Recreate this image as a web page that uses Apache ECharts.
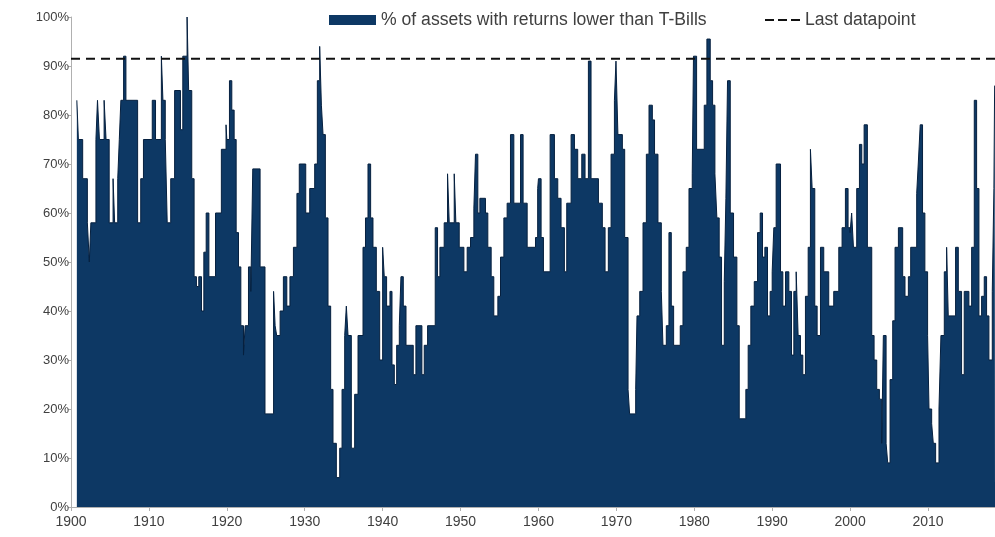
<!DOCTYPE html>
<html><head><meta charset="utf-8">
<script src="https://cdn.jsdelivr.net/npm/echarts@6/dist/echarts.min.js"></script>
<style>html,body{margin:0;padding:0;background:#fff}#c{width:995px;height:537px}</style>
</head><body><div id="c"></div>
<script>
const seriesName = '% of assets with returns lower than T-Bills';
const lastName = 'Last datapoint';
const lastDatapoint = 91.5;
const xStart = 1900, xEnd = 2018.6;
const xTicks = [1900, 1910, 1920, 1930, 1940, 1950, 1960, 1970, 1980, 1990, 2000, 2010];
const yMax = 100, yStep = 10;

// [year, % of assets] – value holds until next step
const steps1900s = [[1900.75,83],[1900.95,75],[1901.5,67],[1902.1,58],[1902.35,50],[1902.55,58],[1903.2,75],[1903.4,83],[1903.65,75],[1904.25,83],[1904.5,75],[1904.9,58],[1905.4,67],[1905.6,58],[1906.0,67],[1906.2,75],[1906.4,83],[1906.75,92],[1907.05,83],[1908.55,58],[1908.95,67],[1909.3,75]];
const steps1910s = [[1910.43,83],[1910.85,75],[1911.6,92],[1911.8,83],[1912.1,75],[1912.35,58],[1912.8,67],[1913.3,85],[1914.05,77],[1914.35,92],[1914.9,100],[1915.1,85],[1915.5,67],[1915.8,47],[1916.1,45],[1916.4,47],[1916.75,40],[1917.05,52],[1917.35,60],[1917.7,47],[1918.55,60],[1919.3,73],[1919.9,78]];
const steps1920s = [[1920.0,75],[1920.34,87],[1920.64,81],[1920.94,75],[1921.2,56],[1921.5,49],[1921.8,37],[1922.14,31],[1922.35,37],[1922.78,49],[1923.08,44],[1923.33,69],[1924.27,49],[1924.9,19],[1926.0,44],[1926.2,37],[1926.4,35],[1926.84,40],[1927.26,47],[1927.7,41],[1928.1,47],[1928.55,53],[1929.0,64],[1929.3,70]];
const steps1930s = [[1930.13,60],[1930.64,65],[1931.28,70],[1931.62,87],[1931.92,94],[1932.14,82],[1932.35,76],[1932.65,59],[1932.99,41],[1933.33,24],[1933.63,13],[1934.06,6],[1934.49,12],[1934.79,24],[1935.13,35],[1935.34,41],[1935.56,35],[1935.98,12],[1936.41,23],[1936.84,35],[1937.48,53],[1937.8,59],[1938.12,70],[1938.46,59],[1938.76,53],[1939.19,44],[1939.62,30]];
const steps1940s = [[1940.0,53],[1940.21,47],[1940.51,41],[1940.94,44],[1941.2,29],[1941.5,25],[1941.8,33],[1942.14,37],[1942.35,47],[1942.65,41],[1943.0,33],[1943.93,27],[1944.27,37],[1945.04,27],[1945.34,33],[1945.77,37],[1946.75,57],[1947.05,47],[1947.35,53],[1947.9,58],[1948.33,68],[1948.55,58],[1949.19,68],[1949.4,58],[1949.83,53]];
const steps1950s = [[1950.43,48],[1950.85,53],[1951.28,55],[1951.71,61],[1951.92,72],[1952.22,60],[1952.48,63],[1953.2,60],[1953.5,53],[1953.93,47],[1954.27,39],[1954.79,43],[1955.13,51],[1955.56,59],[1955.98,62],[1956.41,76],[1956.84,62],[1957.7,76],[1958.03,62],[1958.55,53],[1959.62,55],[1959.9,65]];
const steps1960s = [[1960.0,67],[1960.34,55],[1960.64,48],[1961.5,76],[1962.05,67],[1962.48,63],[1962.9,57],[1963.33,48],[1963.63,62],[1964.19,76],[1964.62,73],[1965.04,67],[1965.56,72],[1965.98,67],[1966.41,91],[1966.75,67],[1967.7,62],[1968.2,57],[1968.55,48],[1968.97,57],[1969.32,72],[1969.75,83]];
const steps1970s = [[1969.95,91],[1970.2,76],[1970.77,73],[1971.07,55],[1971.5,24],[1971.7,19],[1972.48,24],[1972.65,39],[1973.0,44],[1973.42,58],[1973.85,72],[1974.19,82],[1974.62,79],[1974.9,72],[1975.34,58],[1975.77,44],[1975.98,33],[1976.41,37],[1976.75,56],[1977.05,41],[1977.35,33],[1978.2,37],[1978.55,48],[1978.97,53],[1979.32,65],[1979.74,68]];
const steps1980s = [[1979.9,92],[1980.3,73],[1981.28,82],[1981.62,95.5],[1982.05,87],[1982.35,82],[1982.65,68],[1982.9,59],[1983.2,51],[1983.5,33],[1983.85,46],[1984.06,63],[1984.27,87],[1984.62,60],[1985.04,51],[1985.47,37],[1985.77,18],[1986.62,24],[1986.92,33],[1987.26,41],[1987.7,46],[1988.12,56],[1988.46,60],[1988.76,51],[1989.06,53],[1989.4,39],[1989.74,44]];
const steps1990s = [[1990.0,48],[1990.21,57],[1990.51,70],[1991.07,48],[1991.37,41],[1991.71,48],[1992.14,44],[1992.48,31],[1992.78,44],[1993.08,48],[1993.33,35],[1993.63,31],[1993.93,27],[1994.27,43],[1994.62,53],[1994.91,73],[1995.13,65],[1995.47,41],[1995.77,35],[1996.2,53],[1996.62,48],[1997.26,41],[1997.9,44],[1998.55,53],[1998.97,57],[1999.4,65],[1999.74,57]];
const steps2000s = [[2000.0,56],[2000.2,60],[2000.43,53],[2000.85,65],[2001.2,74],[2001.5,70],[2001.8,78],[2002.22,53],[2002.78,35],[2003.08,30],[2003.42,24],[2003.76,22],[2004.06,13],[2004.27,35],[2004.62,13],[2004.83,9],[2005.13,26],[2005.47,38],[2005.77,53],[2006.2,57],[2006.75,47],[2007.05,43],[2007.48,47],[2007.78,53],[2008.55,64],[2008.75,70],[2009.0,78],[2009.3,60],[2009.6,48],[2009.95,35]];
const steps2010s = [[2010.13,20],[2010.47,17],[2010.68,13],[2010.98,9],[2011.41,20],[2011.66,35],[2012.09,48],[2012.39,53],[2012.6,39],[2013.54,53],[2013.89,44],[2014.31,27],[2014.65,44],[2015.25,41],[2015.6,53],[2015.94,83],[2016.24,65],[2016.54,39],[2016.88,43],[2017.22,47],[2017.52,39],[2017.82,30],[2018.25,44],[2018.46,65],[2018.55,86]];

const steps = [].concat(steps1900s, steps1910s, steps1920s, steps1930s, steps1940s,
  steps1950s, steps1960s, steps1970s, steps1980s, steps1990s, steps2000s, steps2010s);
steps.push([xEnd, steps[steps.length - 1][1]]);

const navy = '#0d3864';
const font = 'Liberation Sans, Arial, sans-serif';
const txt = '#404040';
const dashIcon = 'path://M0,0h9v2h-9z M13,0h9v2h-9z M26,0h9v2h-9z';

const chart = echarts.init(document.getElementById('c'), null, {renderer: 'canvas'});
chart.setOption({
  animation: false,
  backgroundColor: '#fff',
  textStyle: {fontFamily: font},
  grid: {left: 71, right: 0, top: 17, bottom: 30, containLabel: false},
  legend: [
    {data: [{name: seriesName, icon: 'rect', itemStyle: {color: navy, borderWidth: 0}}],
     left: 329, top: 11, padding: 0, itemWidth: 47, itemHeight: 10, itemGap: 0,
     textStyle: {fontSize: 17.6, color: txt, fontFamily: font}},
    {data: [{name: lastName, icon: dashIcon, itemStyle: {color: '#111', borderWidth: 0}}],
     left: 765, top: 11, padding: 0, itemWidth: 35, itemHeight: 2, symbolKeepAspect: false,
     textStyle: {fontSize: 17.6, color: txt, fontFamily: font}}
  ],
  xAxis: {
    type: 'value', min: xStart, max: xEnd, interval: 10,
    axisLine: {show: true, lineStyle: {color: '#b0b0b0', width: 1}},
    axisTick: {show: true, length: 4, customValues: xTicks, lineStyle: {color: '#b0b0b0'}},
    axisLabel: {customValues: xTicks, formatter: v => String(v), fontSize: 14, color: txt, margin: 8, fontFamily: font},
    splitLine: {show: false}
  },
  yAxis: {
    type: 'value', min: 0, max: yMax, interval: yStep,
    axisLine: {show: true, lineStyle: {color: '#b0b0b0', width: 1}},
    axisTick: {show: true, length: 3, lineStyle: {color: '#b0b0b0'}},
    axisLabel: {formatter: '{value}%', fontSize: 13, color: txt, margin: 2, fontFamily: font},
    splitLine: {show: false}
  },
  series: [
    {name: seriesName, type: 'line', step: 'end', symbol: 'none', color: navy,
     lineStyle: {color: '#06203f', width: 1},
     areaStyle: {color: navy, opacity: 1},
     data: steps, z: 2},
    {name: lastName, type: 'line', symbol: 'none', color: '#111',
     lineStyle: {color: '#111', width: 2, type: [9, 6]},
     data: [[xStart, lastDatapoint], [xEnd, lastDatapoint]], z: 3}
  ]
});
</script></body></html>
